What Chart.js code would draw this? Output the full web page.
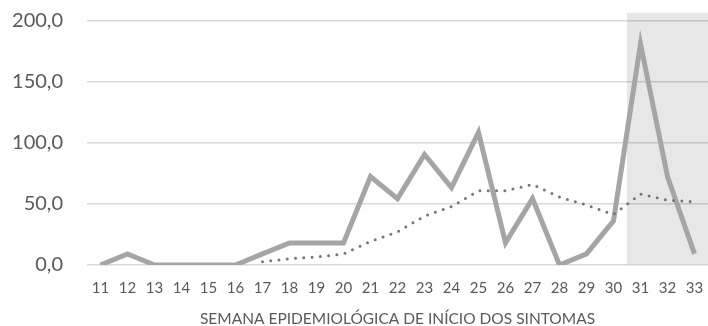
<!DOCTYPE html>
<html>
<head>
<meta charset="utf-8">
<script src="https://cdn.jsdelivr.net/npm/chart.js@4"></script>
<style>
  body { margin: 0; background: #fff; }
</style>
</head>
<body>
<canvas id="chart" width="708" height="326"></canvas>
<script>
const weeks = ['11', '12', '13', '14', '15', '16', '17', '18', '19', '20', '21', '22',
    '23', '24', '25', '26', '27', '28', '29', '30', '31', '32', '33'];

// incidence per week (solid line)
const incidence = [0, 9.1, 0, 0, 0, 0, 9.1, 18.1, 18.1, 18.1, 72.5, 54.4,
    90.6, 63.4, 108.8, 18.1, 54.4, 0, 9.1, 36.2, 181.3, 72.5, 9.1];

// moving average (dotted line)
const movingAvg = [null, null, null, null, null, null, 2.6, 5.2, 6.5, 9.1, 19.4, 27.2,
    40.1, 47.9, 60.8, 60.8, 66.0, 55.7, 49.2, 41.4, 58.2, 53.1, 51.8];

// shaded weeks (last three, still being completed)
const shaded = [null, null, null, null, null, null, null, null, null, null, null, null,
    null, null, null, null, null, null, null, null, 207, 207, 207];

const yTicks = [0, 50, 100, 150, 200];

const ctx = document.getElementById('chart').getContext('2d');

new Chart(ctx, {
    type: 'bar',
    data: {
        labels: weeks,
        datasets: [
            {
                type: 'line',
                label: 'Média móvel',
                data: movingAvg,
                borderColor: '#767676',
                borderWidth: 3,
                borderDash: [0, 8.3],
                borderCapStyle: 'round',
                pointRadius: 0,
                fill: false,
                order: 0
            },
            {
                type: 'line',
                label: 'Incidência',
                data: incidence,
                borderColor: '#a5a5a5',
                borderWidth: 5,
                pointRadius: 0,
                fill: false,
                order: 1
            },
            {
                label: 'Período em aberto',
                data: shaded,
                backgroundColor: 'rgba(0, 0, 0, 0.095)',
                borderWidth: 0,
                inflateAmount: 0,
                barPercentage: 1,
                categoryPercentage: 1,
                order: 2
            }
        ]
    },
    options: {
        responsive: false,
        animation: false,
        layout: { padding: { left: 10, top: 12.5, right: 0, bottom: 0 } },
        plugins: {
            legend: { display: false },
            tooltip: { enabled: false }
        },
        scales: {
            x: {
                grid: { display: false, drawTicks: false },
                border: { display: false },
                ticks: { color: '#595959', font: { family: 'Lato', size: 15 }, padding: 14.5, maxRotation: 0, autoSkip: false },
                title: {
                    display: true,
                    text: 'SEMANA EPIDEMIOLÓGICA DE INÍCIO DOS SINTOMAS',
                    color: '#595959',
                    font: { family: 'Lato', size: 15.5 },
                    padding: { top: 0, bottom: -2 }
                },
                afterFit: (axis) => {
                    axis.height = 61;
                    axis.paddingLeft = 0;
                    axis.paddingRight = 0;
                }
            },
            y: {
                min: 0,
                max: 207,
                afterBuildTicks: (axis) => {
                    axis.ticks = yTicks.map(v => ({ value: v }));
                },
                afterFit: (axis) => {
                    axis.width = 77;
                    axis.paddingTop = 0;
                    axis.paddingBottom = 0;
                },
                grid: { color: '#d9d9d9', lineWidth: 1.5, drawTicks: false },
                border: { display: false },
                ticks: {
                    color: '#595959',
                    font: { family: 'Lato', size: 20 },
                    padding: 24,
                    callback: (v) => v.toFixed(1).replace('.', ',')
                }
            }
        }
    }
});
</script>
</body>
</html>
